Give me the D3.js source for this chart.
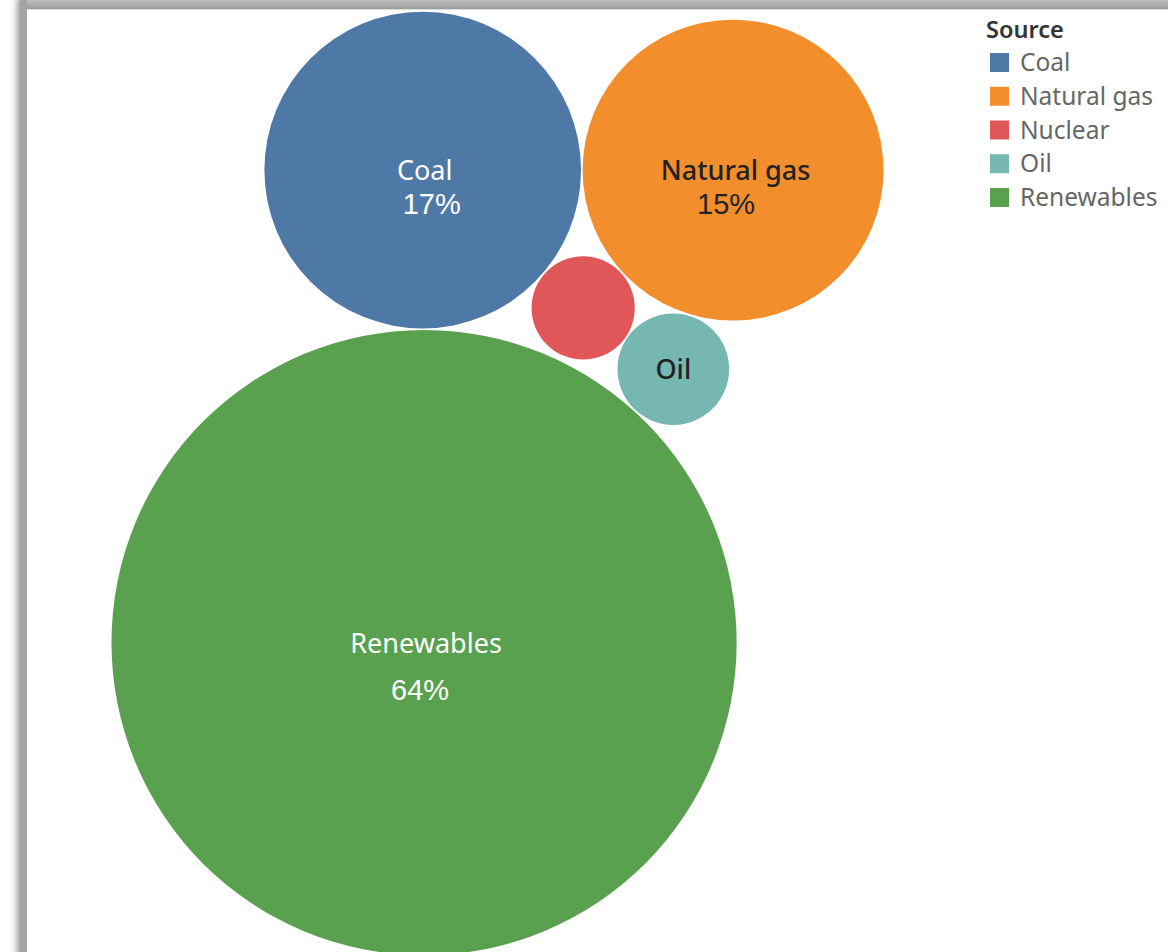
<!DOCTYPE html>
<html>
<head>
<meta charset="utf-8">
<script src="https://cdn.jsdelivr.net/npm/d3@7"></script>
<style>
  body { margin: 0; background: #fff; }
  svg { display: block; }
</style>
</head>
<body>
<svg id="chart" width="1168" height="952"></svg>
<script>
// Share of electricity by source (percent)
const sources = ["Coal", "Natural gas", "Nuclear", "Oil", "Renewables"];
const shares = [16.6, 15.0, 1.8, 2.1, 64.4];
// Which bubbles carry a name / a percentage label
const showName = [true, true, false, true, true];
const showShare = [true, true, false, false, true];
// Bubble contacts: each circle is laid tangent to the two circles named after it
const contacts = [
  ["Coal"],
  ["Natural gas", "Coal"],
  ["Nuclear", "Coal", "Natural gas"],
  ["Oil", "Nuclear", "Natural gas"],
  ["Renewables", "Coal", "Oil"]
];

const palette = ["#4e79a7", "#f28e2b", "#e15759", "#76b7b2", "#59a14f"];
const labelInk = ["#ffffff", "#222222", "#222222", "#222222", "#ffffff"];

const W = 1168, H = 952;
const pane = { x: 25, y: 11, w: 945, h: 945 };

const svg = d3.select("#chart");

// ---- window frame with soft shadow ----
const defs = svg.append("defs");
const sh = defs.append("filter").attr("id", "shadow")
  .attr("x", "-5%").attr("y", "-5%").attr("width", "110%").attr("height", "110%");
sh.append("feGaussianBlur").attr("in", "SourceGraphic").attr("stdDeviation", 3);
const topGrad = defs.append("linearGradient").attr("id", "topband")
  .attr("x1", 0).attr("y1", 0).attr("x2", 0).attr("y2", 1);
topGrad.append("stop").attr("offset", "0%").attr("stop-color", "#bdbdbd");
topGrad.append("stop").attr("offset", "100%").attr("stop-color", "#9c9c9c");

svg.append("rect").attr("x", 17).attr("y", -2).attr("width", W + 20).attr("height", H + 20)
  .attr("fill", "#9a9a9a").attr("filter", "url(#shadow)");
svg.append("rect").attr("x", 20).attr("y", 0).attr("width", W).attr("height", 9)
  .attr("fill", "url(#topband)");
svg.append("rect").attr("x", 20).attr("y", 0).attr("width", 7).attr("height", H)
  .attr("fill", "#a3a3a3");
svg.append("rect").attr("x", 27).attr("y", 9).attr("width", W).attr("height", H)
  .attr("fill", "#ffffff");
svg.append("line").attr("x1", 27).attr("x2", W).attr("y1", 9.5).attr("y2", 9.5)
  .attr("stroke", "#dcdcdc").attr("stroke-width", 1);

// ---- bubble layout (area ∝ share) ----
const rUnit = d3.scaleSqrt().domain([0, 1]).range([0, 1]);
const placed = [];
const byName = {};

function tangentSpots(a, b, r) {
  const da = a.r + r, db = b.r + r;
  const dx = b.x - a.x, dy = b.y - a.y, d = Math.hypot(dx, dy);
  const ux = dx / d, uy = dy / d;
  const along = (da * da - db * db + d * d) / (2 * d);
  const h = Math.sqrt(Math.max(0, da * da - along * along));
  return [1, -1].map(s => ({
    x: a.x + along * ux - s * h * uy,
    y: a.y + along * uy + s * h * ux
  }));
}
const clear = (p, r) => placed.every(q => Math.hypot(p.x - q.x, p.y - q.y) >= q.r + r - 1e-6);

contacts.forEach(([name, first, second]) => {
  const i = sources.indexOf(name);
  const node = { name, i, value: shares[i], r: rUnit(shares[i]) };
  if (!first) { node.x = 0; node.y = 0; }
  else if (!second) {
    const a = byName[first];
    node.x = a.x + a.r + node.r; node.y = a.y;
  } else {
    const spots = tangentSpots(byName[first], byName[second], node.r)
      .filter(p => clear(p, node.r))
      .sort((p, q) => q.y - p.y);
    Object.assign(node, spots[0]);
  }
  placed.push(node);
  byName[name] = node;
});
const nodes = placed;

const bx0 = d3.min(nodes, d => d.x - d.r), bx1 = d3.max(nodes, d => d.x + d.r);
const by0 = d3.min(nodes, d => d.y - d.r), by1 = d3.max(nodes, d => d.y + d.r);
const k = Math.min(pane.w / (bx1 - bx0), pane.h / (by1 - by0));
const cx = pane.x + pane.w / 2, cy = pane.y + pane.h / 2;
const xs = d3.scaleLinear().domain([bx0, bx1])
  .range([cx - (bx1 - bx0) * k / 2, cx + (bx1 - bx0) * k / 2]);
const ys = d3.scaleLinear().domain([by0, by1])
  .range([cy - (by1 - by0) * k / 2, cy + (by1 - by0) * k / 2]);
const color = d3.scaleOrdinal().domain(sources).range(palette);

const total = d3.sum(shares);
const pct = v => Math.round(v / total * 100) + "%";

const g = svg.append("g");
g.selectAll("circle").data(nodes).join("circle")
  .attr("cx", d => xs(d.x))
  .attr("cy", d => ys(d.y))
  .attr("r", d => d.r * k - 0.8)
  .attr("fill", d => color(d.name));

// labels: name on the centre line, share below it
const shareDrop = { "Renewables": 57 };
const nudge = { "Coal": [2, 9], "Natural gas": [2.5, -7], "Renewables": [2, -4] };

const lab = g.selectAll("g.lab").data(nodes.filter(d => showName[d.i])).join("g")
  .attr("class", "lab")
  .attr("transform", d => `translate(${xs(d.x)},${ys(d.y)})`);
lab.append("text")
  .attr("x", d => (nudge[d.name] || [0, 0])[0])
  .attr("y", 10)
  .attr("text-anchor", "middle")
  .attr("font-family", "'Noto Sans', sans-serif")
  .attr("font-size", 27)
  .attr("font-weight", d => labelInk[d.i] === "#ffffff" ? 400 : 500)
  .attr("fill", d => labelInk[d.i])
  .text(d => d.name);
lab.filter(d => showShare[d.i]).append("text")
  .attr("x", d => (nudge[d.name] || [0, 0])[1])
  .attr("y", d => shareDrop[d.name] || 44)
  .attr("text-anchor", "middle")
  .attr("font-family", "'Liberation Sans', Arial, sans-serif")
  .attr("font-size", 29)
  .attr("fill", d => labelInk[d.i])
  .text(d => pct(d.value));

// ---- legend ----
const legend = svg.append("g").attr("transform", "translate(986,0)");
legend.append("text")
  .attr("x", 0).attr("y", 38)
  .attr("font-family", "'Noto Sans', sans-serif")
  .attr("font-size", 23.5).attr("font-weight", 600)
  .attr("fill", "#333")
  .text("Source");
const rowY = d3.scalePoint().domain(sources).range([62, 197]);
const item = legend.selectAll("g.item").data(sources).join("g")
  .attr("class", "item")
  .attr("transform", d => `translate(0,${rowY(d)})`);
item.append("rect")
  .attr("x", 4).attr("y", -9).attr("width", 19).attr("height", 19)
  .attr("fill", d => color(d));
item.append("text")
  .attr("x", 34).attr("y", 9)
  .attr("font-family", "'Noto Sans', sans-serif")
  .attr("font-size", 24.5)
  .attr("fill", "#666")
  .text(d => d);
</script>
</body>
</html>
